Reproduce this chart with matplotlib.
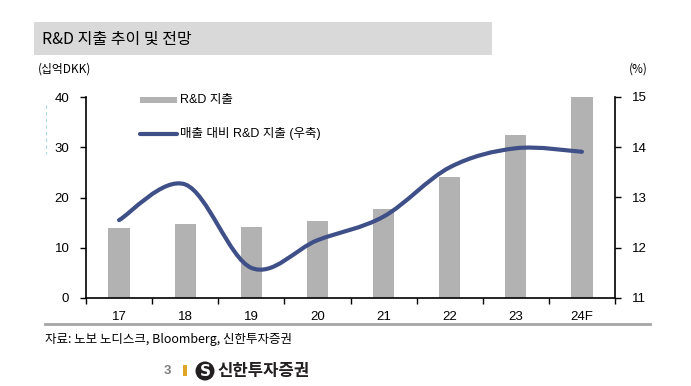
import numpy as np
import matplotlib as mpl
import matplotlib.pyplot as plt
from matplotlib.path import Path
from matplotlib.patches import PathPatch, Rectangle, Circle

plt.rcParams['font.family'] = ['Liberation Sans', 'Noto Sans CJK KR', 'DejaVu Sans']
kr = ['Noto Sans CJK KR', 'DejaVu Sans']

# Data
years = ['17', '18', '19', '20', '21', '22', '23', '24F']
rnd = [14.0, 14.7, 14.2, 15.4, 17.7, 24.0, 32.4, 40.0]          # 십억DKK
rnd_ratio = [12.55, 13.26, 11.60, 12.15, 12.62, 13.60, 13.98, 13.91]  # %

# Colors
clr_bar = '#B2B2B2'
clr_line = '#3F4F88'

W, H = 691, 386
fig = plt.figure(figsize=(W / 100, H / 100), dpi=100)

def fx(x):
    return x / W

def fy(y):
    return 1 - y / H

# Title band
fig.patches.append(Rectangle((fx(34), fy(55)), fx(492) - fx(34), fy(22) - fy(55),
                             transform=fig.transFigure, color='#D9D9D9', lw=0, zorder=0))
fig.text(fx(42), fy(39), 'R&D 지출 추이 및 전망', family=kr, fontsize=11.5,
         va='center', ha='left', fontweight='medium')

fig.text(fx(38), fy(69), '(십억DKK)', family=kr, fontsize=8.5, va='center', ha='left')
fig.text(fx(648), fy(69), '(%)', family=kr, fontsize=8.5, va='center', ha='right')

# Axes
ax1 = fig.add_axes([fx(86), fy(298), fx(615) - fx(86), fy(97) - fy(298)])
ax2 = ax1.twinx()

x = np.arange(len(years))
ax1.bar(x, rnd, width=0.32, color=clr_bar, zorder=2, label='R&D 지출')
ax1.set_xlim(-0.5, len(years) - 0.5)
ax1.set_ylim(0, 40)
ax1.set_yticks([0, 10, 20, 30, 40])
ax1.set_xticks(x)
ax1.set_xticklabels(years)
ax1.set_xticks(np.arange(-0.5, len(years), 1), minor=True)
ax1.tick_params(axis='x', which='major', length=0, pad=9, labelsize=9.5)
ax1.tick_params(axis='x', which='minor', length=4, width=1, direction='out')
ax1.tick_params(axis='y', length=4, width=1, direction='out', labelsize=9.5, pad=8)

ax2.set_ylim(11, 15)
ax2.set_yticks([11, 12, 13, 14, 15])
ax2.tick_params(axis='y', length=4, width=1, direction='out', labelsize=9.5, pad=8)

for ax in (ax1, ax2):
    ax.spines['top'].set_visible(False)
    for s in ('left', 'right', 'bottom'):
        ax.spines[s].set_linewidth(1.2)
ax2.spines['bottom'].set_visible(False)
ax1.spines['right'].set_visible(False)
ax2.spines['left'].set_visible(False)

# Smoothed line (Catmull-Rom as cubic Bezier, like Excel's smoothed line)
pts = np.column_stack([x, rnd_ratio]).astype(float)
verts = [tuple(pts[0])]
codes = [Path.MOVETO]
n = len(pts)
for i in range(n - 1):
    p0 = pts[max(i - 1, 0)]
    p1 = pts[i]
    p2 = pts[i + 1]
    p3 = pts[min(i + 2, n - 1)]
    c1 = p1 + (p2 - p0) / 6
    c2 = p2 - (p3 - p1) / 6
    verts += [tuple(c1), tuple(c2), tuple(p2)]
    codes += [Path.CURVE4] * 3
ax2.add_patch(PathPatch(Path(verts, codes), fill=False, ec=clr_line, lw=3.0,
                        capstyle='round', joinstyle='round', zorder=3))

# Legend (drawn manually to match placement)
fig.patches.append(Rectangle((fx(140), fy(103)), fx(177) - fx(140), fy(97) - fy(103),
                             transform=fig.transFigure, color=clr_bar, lw=0))
fig.text(fx(180), fy(100), 'R&D 지출', fontsize=9, va='center', ha='left')
fig.lines.append(mpl.lines.Line2D([fx(140), fx(177)], [fy(134), fy(134)],
                                  transform=fig.transFigure, color=clr_line, lw=3.0,
                                  solid_capstyle='round'))
fig.text(fx(180), fy(134), '매출 대비 R&D 지출 (우축)', fontsize=9, va='center', ha='left')

# faint dashed guide
fig.lines.append(mpl.lines.Line2D([fx(45.5), fx(45.5)], [fy(105), fy(154)],
                                  transform=fig.transFigure, color='#A9D8E8', lw=0.8,
                                  ls=(0, (3, 3))))

# Footer
fig.lines.append(mpl.lines.Line2D([fx(45), fx(650)], [fy(324), fy(324)],
                                  transform=fig.transFigure, color='#A6A6A6', lw=2.0))
fig.text(fx(45), fy(340), '자료: 노보 노디스크, Bloomberg, 신한투자증권', family=kr,
         fontsize=9, va='center', ha='left')

fig.text(fx(167), fy(371), '3', fontsize=9.5, color='#7F7F7F', fontweight='bold',
         va='center', ha='center')
fig.patches.append(Rectangle((fx(183.5), fy(376)), fx(186.5) - fx(183.5), fy(365) - fy(376),
                             transform=fig.transFigure, color='#E0A526', lw=0))
fig.patches.append(Circle((205, H - 371), 9.5, transform=mpl.transforms.IdentityTransform(),
                          color='#231F20', lw=0))
fig.text(fx(205), fy(371.5), 'S', fontsize=11, color='white', fontweight='bold',
         va='center', ha='center', family=['DejaVu Sans'])
fig.text(fx(217), fy(371), '신한투자증권', family=kr, fontsize=12, fontweight='bold',
         color='#231F20', va='center', ha='left')

fig.savefig('out.png', dpi=100)
